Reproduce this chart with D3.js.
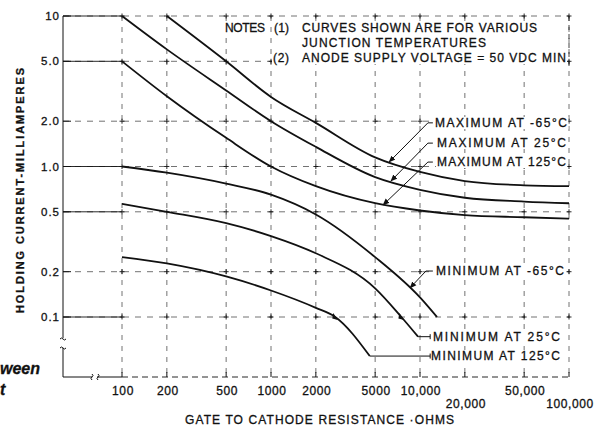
<!DOCTYPE html>
<html><head><meta charset="utf-8">
<script src="https://cdn.jsdelivr.net/npm/d3@7"></script>
<style>
body{margin:0;background:#fff}
svg{display:block}
text{font-family:"Liberation Sans",Arial,sans-serif;fill:#111;stroke:#111;stroke-width:0.3}
</style>
</head><body>
<svg id="c" width="603" height="426"></svg>
<script>
// ---- data ----
const xTicks = [100, 200, 500, 1000, 2000, 5000, 10000, 20000, 50000, 100000];
const xTickLabels = ["100", "200", "500", "1000", "2000", "5000", "10,000", "20,000", "50,000", "100,000"];
const xTickRow = [0, 0, 0, 0, 0, 0, 0, 1, 0, 1];
const yTicks = [10, 5, 2, 1, 0.5, 0.2, 0.1];
const yTickLabels = ["10", "5.0", "2.0", "1.0", "0.5", "0.2", "0.1"];
const ySolidStart = [10, 5, 1, 0.5, 0.1];

const maxM65R = [200, 500, 1000, 2000, 5000, 10000, 20000, 50000, 100000];
const maxM65 = [10, 5.0, 2.9, 1.95, 1.15, 0.92, 0.8, 0.75, 0.74];
const max25R = [100, 200, 500, 1000, 2000, 5000, 10000, 20000, 50000, 100000];
const max25 = [10, 6.0, 3.2, 2.0, 1.35, 0.85, 0.7, 0.62, 0.585, 0.57];
const max125R = [100, 200, 500, 1000, 2000, 5000, 10000, 20000, 50000, 100000];
const max125 = [5.0, 2.93, 1.55, 1.0, 0.74, 0.57, 0.51, 0.475, 0.46, 0.45];
const minM65R = [100, 200, 500, 1000, 2000, 5000, 10000, 13000];
const minM65 = [1.0, 0.91, 0.77, 0.65, 0.48, 0.25, 0.135, 0.1];
const min25R = [100, 200, 500, 1000, 2000, 5000, 7500, 9700];
const min25 = [0.565, 0.5, 0.42, 0.345, 0.265, 0.155, 0.1, 0.074];
const min125R = [100, 200, 500, 1000, 2000, 2700, 4600];
const min125 = [0.25, 0.227, 0.186, 0.15, 0.115, 0.1, 0.055];

const curveLabels = ["MAXIMUM AT -65°C", "MAXIMUM AT 25°C", "MAXIMUM AT 125°C",
                     "MINIMUM AT -65°C", "MINIMUM AT 25°C", "MINIMUM AT 125°C"];
// leader lines (resistance, mA)
const leaderMaxM65 = [[12200, 1.95], [11300, 1.95], [6200, 1.07]];
const leaderMax25 = [[12200, 1.43], [11300, 1.43], [6380, 0.80]];
const leaderMax125 = [[12200, 1.07], [11300, 1.07], [5650, 0.555]];
const leaderMinM65 = [[12200, 0.202], [10960, 0.202], [8570, 0.156]];
const leaderMin25 = [[9700, 0.074], [11700, 0.074]];
const leaderMin125 = [[4600, 0.055], [11700, 0.055]];
const arrowMarks = [[7500, 0.1], [2700, 0.1]];

const notes = ["NOTES", "(1)", "CURVES SHOWN ARE FOR VARIOUS", "JUNCTION TEMPERATURES",
               "(2)", "ANODE SUPPLY VOLTAGE = 50 VDC MIN"];
const xTitle = "GATE TO CATHODE RESISTANCE ·OHMS";
const yTitle = "HOLDING CURRENT-MILLIAMPERES";

// ---- layout ----
const svg = d3.select("#c");
const x = d3.scaleLog().domain([100, 100000]).range([122, 569]);
const y = d3.scaleLog().domain([0.1, 10]).range([317, 16]);
const axisLeftX = 63, axisBottomY = 377;
const ink = "#111";

svg.append("defs").append("marker")
  .attr("id", "arr").attr("viewBox", "0 0 10 10").attr("refX", 9).attr("refY", 5)
  .attr("markerWidth", 7).attr("markerHeight", 7).attr("orient", "auto-start-reverse")
  .attr("markerUnits", "userSpaceOnUse")
  .append("path").attr("d", "M0,1 L10,5 L0,9 Z").attr("fill", ink);

const grid = svg.append("g").attr("stroke", ink).attr("fill", "none");
// vertical gridlines
xTicks.forEach(t => {
  grid.append("line").attr("x1", x(t)).attr("x2", x(t)).attr("y1", y(10)).attr("y2", axisBottomY)
    .attr("stroke-width", 0.7).attr("stroke-dasharray", "5,6").attr("stroke-opacity", 0.85);
});
// horizontal gridlines
yTicks.forEach(t => {
  grid.append("line").attr("x1", axisLeftX).attr("x2", x(100000)).attr("y1", y(t)).attr("y2", y(t))
    .attr("stroke-width", 0.7).attr("stroke-dasharray", "6,6").attr("stroke-opacity", 0.85);
  grid.append("line").attr("x1", axisLeftX).attr("x2", axisLeftX + 8).attr("y1", y(t)).attr("y2", y(t))
    .attr("stroke-width", 1);
});
ySolidStart.forEach(t => {
  grid.append("line").attr("x1", axisLeftX).attr("x2", x(100)).attr("y1", y(t)).attr("y2", y(t))
    .attr("stroke-width", 0.9);
});
// crosses
xTicks.forEach(tx => yTicks.forEach(ty => {
  grid.append("path").attr("d", `M${x(tx)-2.5},${y(ty)}h5M${x(tx)},${y(ty)-2.5}v5`).attr("stroke-width", 0.9);
}));
xTicks.forEach(tx => {
  grid.append("path").attr("d", `M${x(tx)},${axisBottomY}v-5`).attr("stroke-width", 1);
});
// left axis with break
grid.append("line").attr("x1", axisLeftX).attr("x2", axisLeftX).attr("y1", y(10)).attr("y2", 338).attr("stroke-width", 1);
grid.append("path").attr("d", `M${axisLeftX-3},339 q1.5,-2 3,0 t3,0 M${axisLeftX-3},348 q1.5,-2 3,0 t3,0`).attr("stroke-width", 1);
grid.append("line").attr("x1", axisLeftX).attr("x2", axisLeftX).attr("y1", 348).attr("y2", axisBottomY).attr("stroke-width", 1);
// bottom axis with break
grid.append("line").attr("x1", axisLeftX).attr("x2", 92).attr("y1", axisBottomY).attr("y2", axisBottomY).attr("stroke-width", 1);
grid.append("path").attr("d", `M92,${axisBottomY+3} q-2,-1.5 0,-3 t0,-3 M98,${axisBottomY+3} q-2,-1.5 0,-3 t0,-3`).attr("stroke-width", 1);
grid.append("line").attr("x1", 97).attr("x2", x(100)).attr("y1", axisBottomY).attr("y2", axisBottomY).attr("stroke-width", 1);
grid.append("line").attr("x1", x(100)).attr("x2", x(100000)).attr("y1", axisBottomY).attr("y2", axisBottomY)
  .attr("stroke-width", 0.9).attr("stroke-dasharray", "6,4");

// helper: text
function label(g, px, py, str, opts = {}) {
  const t = g.append("text").attr("x", px).attr("y", py).text(str)
    .attr("font-size", opts.size || 12)
    .attr("text-anchor", opts.anchor || "start");
  if (opts.len) t.attr("textLength", opts.len).attr("lengthAdjust", "spacing");
  if (opts.ls) t.attr("letter-spacing", opts.ls);
  if (opts.weight) t.attr("font-weight", opts.weight);
  if (opts.style) t.attr("font-style", opts.style);
  if (opts.transform) t.attr("transform", opts.transform);
  return t;
}
function mask(g, nodes, pad = 1) {
  let x0 = 1e9, y0 = 1e9, x1 = -1e9, y1 = -1e9;
  nodes.forEach(n => { const b = n.node().getBBox();
    x0 = Math.min(x0, b.x); y0 = Math.min(y0, b.y); x1 = Math.max(x1, b.x + b.width); y1 = Math.max(y1, b.y + b.height); });
  g.insert("rect", ":first-child").attr("x", x0 - pad).attr("y", y0 + 1).attr("width", x1 - x0 + 2 * pad)
    .attr("height", y1 - y0 - 2).attr("fill", "#fff").attr("stroke", "none");
}

const tg = svg.append("g");
// notes
const n0 = label(tg, 225, 32, notes[0], {len: 40});
const n1 = label(tg, 274, 32, notes[1], {len: 15});
const n2 = label(tg, 302, 32, notes[2], {len: 235});
const n3 = label(tg, 302, 47, notes[3], {len: 184});
const n4 = label(tg, 273, 62, notes[4], {len: 16});
const n5 = label(tg, 302, 62, notes[5], {len: 264});
mask(tg, [n0]);
mask(tg, [n1, n2, n3, n4, n5]);

// curve labels
const lg = svg.append("g");
const labelPos = [[435, 127, 132], [437, 147, 129], [437, 166, 129], [436, 275, 128], [433, 341, 127], [431, 360, 129]];
curveLabels.forEach((s, i) => {
  const t = label(lg, labelPos[i][0], labelPos[i][1], s, {len: labelPos[i][2]});
  mask(lg, [t]);
});

// right frame redrawn over masks
grid.clone(false);
svg.append("line").attr("x1", x(100000)).attr("x2", x(100000)).attr("y1", y(10)).attr("y2", 70)
  .attr("stroke", ink).attr("stroke-width", 0.8).attr("stroke-dasharray", "5,4");

// tick labels
yTicks.forEach((t, i) => label(svg, 60, y(t) + 4, yTickLabels[i], {size: 11.5, anchor: "end", ls: 1}));
xTicks.forEach((t, i) => label(svg, x(t) + 1, xTickRow[i] ? 408 : 395, xTickLabels[i], {size: 12, anchor: "middle", ls: 0.6}));

// titles
label(svg, 185, 424, xTitle, {size: 12, len: 269});
label(svg, 0, 0, yTitle, {size: 11, weight: "bold", len: 245, transform: "translate(24,313) rotate(-90)"});
// cropped neighbouring text
label(svg, 0, 374, "ween", {size: 16, weight: "bold", style: "italic"});
label(svg, 0, 395, "t", {size: 16, weight: "bold", style: "italic"});

// curves
const line = d3.line().x(d => x(d[0])).y(d => y(d[1])).curve(d3.curveMonotoneX);
const series = [[maxM65R, maxM65], [max25R, max25], [max125R, max125],
                [minM65R, minM65], [min25R, min25], [min125R, min125]];
const cg = svg.append("g").attr("fill", "none").attr("stroke", ink);
series.forEach(([R, V]) => {
  cg.append("path").attr("d", line(R.map((r, i) => [r, V[i]]))).attr("stroke-width", 1.8);
});

// leaders
const lline = d3.line().x(d => x(d[0])).y(d => y(d[1]));
[leaderMaxM65, leaderMax25, leaderMax125, leaderMinM65].forEach(L => {
  cg.append("path").attr("d", lline(L)).attr("stroke-width", 1).attr("marker-end", "url(#arr)");
});
[leaderMin25, leaderMin125].forEach(L => {
  cg.append("path").attr("d", lline(L)).attr("stroke-width", 1);
  const e = L[L.length - 1];
  cg.append("path").attr("d", `M${x(e[0])},${y(e[1])-2.5}v5`).attr("stroke-width", 1);
});
// small arrow marks on minimum curves
arrowMarks.forEach(([r, v]) => {
  const px = x(r), py = y(v);
  cg.append("path").attr("d", `M${px-2},${py-4} L${px+2.5},${py+3} L${px-3},${py+1.5} Z`).attr("fill", ink).attr("stroke", "none");
});
</script>
</body></html>
